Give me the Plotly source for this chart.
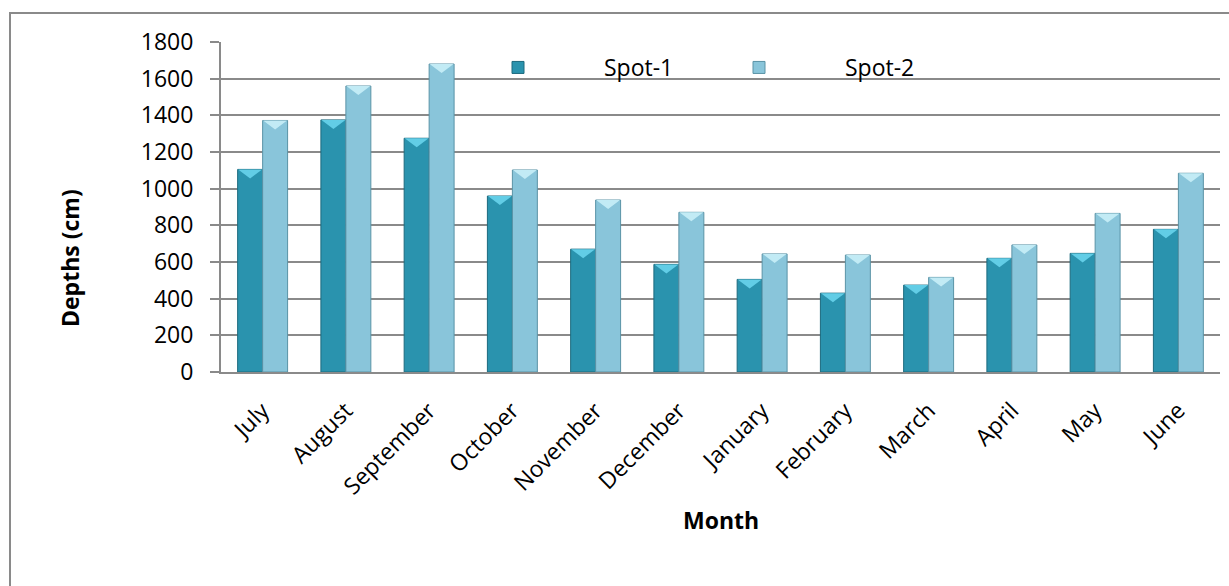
import plotly.graph_objects as go

# Monthly depths (cm) at two spots
months = ["July", "August", "September", "October", "November", "December",
          "January", "February", "March", "April", "May", "June"]
spot1 = [1105, 1375, 1275, 960, 670, 587, 505, 430, 474, 620, 647, 778]
spot2 = [1372, 1560, 1680, 1102, 938, 871, 644, 638, 516, 693, 865, 1084]
y_ticks = [0, 200, 400, 600, 800, 1000, 1200, 1400, 1600, 1800]

FONT = "Open Sans"
BAR_W = 0.3
x_pos = list(range(len(months)))

series = [
    ("Spot-1", spot1, "#2a93ae", "#1d6a7e", "#62cde6", -BAR_W / 2),
    ("Spot-2", spot2, "#89c5da", "#5a93a6", "#c2ebf5", BAR_W / 2),
]

fig = go.Figure()
shapes = []
for name, vals, fill, edge, cap, off in series:
    fig.add_trace(go.Bar(
        name=name,
        x=x_pos, y=vals,
        marker=dict(color=fill, line=dict(color=edge, width=1)),
        width=BAR_W, offset=off - BAR_W / 2,
    ))
    # bevelled cap on top of each bar
    for xi, v in zip(x_pos, vals):
        shapes.append(dict(
            type="path", xref="x", yref="y",
            xsizemode="pixel", ysizemode="pixel",
            xanchor=xi + off, yanchor=v,
            path="M-12,0 L12,0 L0,-9 Z",
            fillcolor=cap, line=dict(width=0), layer="above",
        ))

# outer chart frame
shapes.append(dict(type="rect", xref="paper", yref="paper",
                   x0=(10 - 221) / 999, x1=1.2, y0=-2, y1=1 + 29 / 330,
                   line=dict(color="#8a8a8a", width=2), layer="below"))

fig.update_layout(
    width=1229, height=586,
    margin=dict(l=221, r=9, t=42, b=214),
    paper_bgcolor="white", plot_bgcolor="white",
    font=dict(family=FONT, size=23, color="black"),
    barmode="overlay",
    showlegend=True,
    legend=dict(orientation="h", x=(432 - 221) / 999, xanchor="left",
                y=1 - 4 / 330, yanchor="top",
                itemwidth=162, entrywidth=64,
                font=dict(family=FONT, size=23, color="black"),
                bgcolor="rgba(0,0,0,0)"),
    shapes=shapes,
    annotations=[
        dict(text="<b>Month</b>", x=0.5, xref="paper", y=(372 - 520) / 330,
             yref="paper", xanchor="center", yanchor="middle",
             showarrow=False, font=dict(size=23)),
        dict(text="<b>Depths (cm)</b>", x=(70 - 221) / 999, xref="paper",
             y=(372 - 258) / 330, yref="paper", xanchor="center",
             yanchor="middle", showarrow=False, textangle=-90,
             font=dict(size=23)),
    ],
)

fig.update_xaxes(
    range=[-0.5, len(months) - 0.5],
    tickvals=x_pos, ticktext=months, tickangle=-45,
    showgrid=False, showline=True, linecolor="#8a8a8a", linewidth=2,
    ticks="", ticklabelstandoff=14, zeroline=False,
)
fig.update_yaxes(
    range=[0, 1800], tickvals=y_ticks,
    showgrid=True, gridcolor="#8a8a8a", gridwidth=1.5,
    showline=True, linecolor="#8a8a8a", linewidth=2,
    ticks="outside", ticklen=9, tickcolor="#8a8a8a", tickwidth=1.5,
    ticklabelstandoff=12, zeroline=False,
)

fig.write_html("out.html")
